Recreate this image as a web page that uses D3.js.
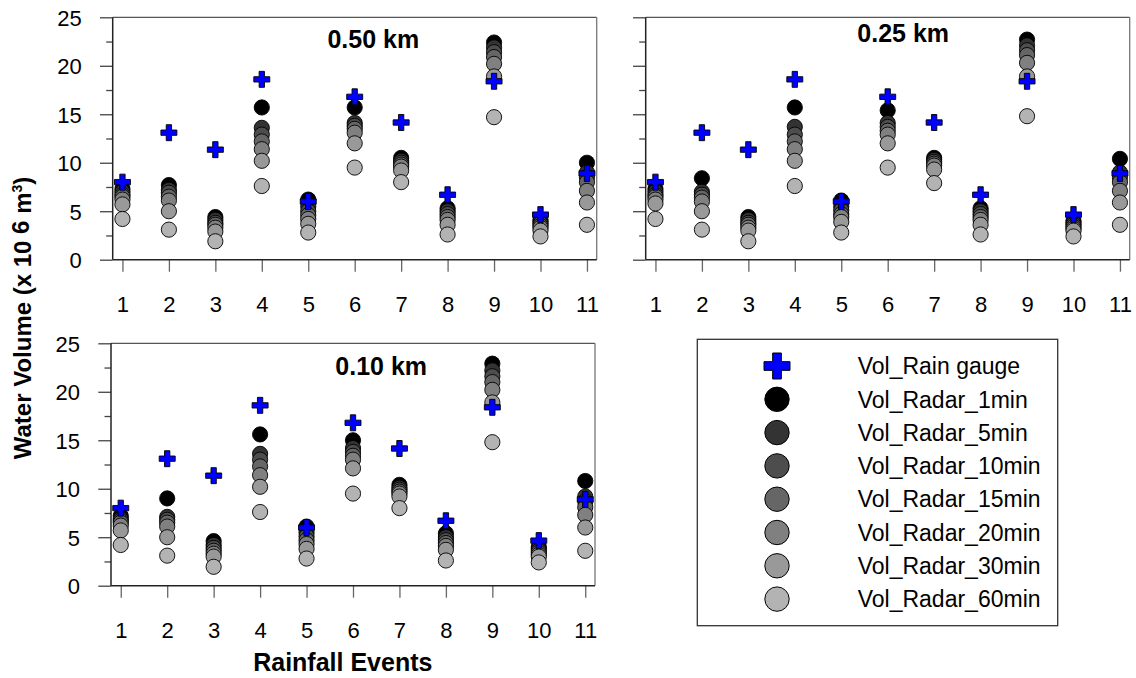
<!DOCTYPE html>
<html>
<head>
<meta charset="utf-8">
<script src="https://cdn.jsdelivr.net/npm/d3@7"></script>
<style>
  html, body { margin: 0; padding: 0; background: #fff; }
  svg { display: block; }
  text { font-family: "Liberation Sans", Arial, Helvetica, sans-serif; fill: #000; }
</style>
</head>
<body>
<svg id="chart" width="1136" height="678"></svg>
<script>
// Rainfall events on the x axis
const events = [1, 2, 3, 4, 5, 6, 7, 8, 9, 10, 11];
const yTicks = [0, 5, 10, 15, 20, 25];
const yMinorTicks = [2.5, 7.5, 12.5, 17.5, 22.5];

// Radar accumulation intervals and their grey levels
const durations = ["1min", "5min", "10min", "15min", "20min", "30min", "60min"];
const greys = ["#000000", "#333333", "#4d4d4d", "#666666", "#808080", "#999999", "#b3b3b3"];

// Rain gauge volume per event (x 10^6 m3)
const rainGauge = [8.0, 13.1, 11.35, 18.6, 6.0, 16.8, 14.15, 6.7, 18.4, 4.65, 8.9];

// Radar volumes, one row per accumulation interval (1, 5, 10, 15, 20, 30, 60 min)
const radar050 = [
  [7.3, 7.7, 4.4, 15.7, 6.2, 15.7, 10.5, 5.3, 22.4, 4.1, 10.0],
  [7.0, 7.2, 4.1, 13.6, 5.5, 14.1, 10.2, 5.0, 21.9, 3.9, 9.0],
  [6.7, 6.9, 3.8, 12.9, 5.0, 13.8, 10.0, 4.7, 21.4, 3.7, 8.5],
  [6.5, 6.5, 3.6, 12.2, 4.6, 13.5, 9.8, 4.4, 20.9, 3.5, 8.0],
  [6.2, 6.1, 3.3, 11.4, 4.2, 13.1, 9.6, 4.1, 20.2, 3.3, 7.1],
  [5.7, 5.0, 2.9, 10.2, 3.7, 12.0, 9.2, 3.6, 18.9, 3.0, 5.9],
  [4.2, 3.1, 1.9, 7.6, 2.8, 9.5, 8.0, 2.6, 14.7, 2.4, 3.6]
];
const radar025 = [
  [7.3, 8.4, 4.4, 15.7, 6.1, 15.4, 10.5, 5.3, 22.7, 4.0, 10.4],
  [7.0, 7.0, 4.1, 13.7, 5.5, 14.1, 10.3, 5.0, 22.1, 3.8, 9.0],
  [6.7, 6.7, 3.8, 12.9, 5.1, 13.7, 10.1, 4.7, 21.6, 3.6, 8.5],
  [6.5, 6.4, 3.6, 12.2, 4.7, 13.3, 9.9, 4.4, 21.1, 3.4, 8.0],
  [6.2, 6.0, 3.3, 11.4, 4.4, 12.9, 9.7, 4.1, 20.3, 3.2, 7.1],
  [5.8, 5.0, 3.0, 10.2, 3.9, 12.0, 9.3, 3.6, 18.9, 3.0, 5.9],
  [4.2, 3.1, 1.9, 7.6, 2.8, 9.5, 7.9, 2.6, 14.8, 2.4, 3.6]
];
const radar010 = [
  [7.2, 9.0, 4.6, 15.6, 6.1, 15.0, 10.4, 5.4, 22.9, 4.0, 10.8],
  [6.9, 7.1, 4.2, 13.6, 5.5, 14.2, 10.1, 5.0, 22.2, 3.8, 9.2],
  [6.7, 6.8, 3.9, 13.0, 5.1, 13.8, 9.9, 4.7, 21.6, 3.6, 8.7],
  [6.5, 6.5, 3.6, 12.3, 4.7, 13.4, 9.7, 4.4, 21.0, 3.4, 8.1],
  [6.2, 6.1, 3.3, 11.4, 4.3, 13.0, 9.5, 4.1, 20.2, 3.2, 7.3],
  [5.7, 5.0, 3.0, 10.2, 3.8, 12.1, 9.2, 3.7, 18.9, 3.0, 6.0],
  [4.2, 3.1, 1.95, 7.6, 2.8, 9.5, 8.0, 2.6, 14.8, 2.4, 3.6]
];

const legendLabels = ["Vol_Rain gauge"].concat(durations.map(d => "Vol_Radar_" + d));

const svg = d3.select("#chart");
const FONT = 22;
const plotW = 484, plotH = 242.4;

const panels = [
  { title: "0.50 km", values: radar050, left: 112.7, top: 17.3, yLabels: true,  tx: 373.3, ty: 48.3 },
  { title: "0.25 km", values: radar025, left: 645.7, top: 17.3, yLabels: false, tx: 903.2, ty: 41.7 },
  { title: "0.10 km", values: radar010, left: 111.0, top: 343.3, yLabels: true, tx: 381.2, ty: 375.0 }
];

const crossPath = d3.symbol().type(d3.symbolCross).size(142)();
const crossPathLegend = d3.symbol().type(d3.symbolCross).size(375)();

panels.forEach(p => {
  const g = svg.append("g").attr("transform", `translate(${p.left},${p.top})`);
  const x = d3.scaleLinear().domain([0.79, 11.21]).range([0, plotW]);
  const y = d3.scaleLinear().domain([0, 25]).range([plotH, 0]);

  // y ticks (major + minor)
  const ya = g.append("g").call(
    d3.axisLeft(y).tickValues(yTicks).tickSize(12.7).tickFormat(p.yLabels ? d3.format("d") : () => "")
  );
  ya.select(".domain").remove();
  ya.selectAll("line").attr("stroke", "#444").attr("stroke-width", 1.3);
  ya.selectAll("text")
    .attr("x", -31).attr("dy", "0.36em")
    .style("font-size", FONT + "px").style("font-family", "Liberation Sans, Arial, sans-serif");

  const ym = g.append("g").call(
    d3.axisLeft(y).tickValues(yMinorTicks).tickSize(6.5).tickFormat(() => "")
  );
  ym.select(".domain").remove();
  ym.selectAll("line").attr("stroke", "#444").attr("stroke-width", 1.3);

  // x ticks
  const xa = g.append("g").attr("transform", `translate(0,${plotH})`).call(
    d3.axisBottom(x).tickValues(events).tickSize(12).tickFormat(d3.format("d"))
  );
  xa.select(".domain").remove();
  xa.selectAll("line").attr("stroke", "#666").attr("stroke-width", 1.3);
  xa.selectAll("text")
    .attr("y", 52).attr("dy", 0)
    .style("font-size", FONT + "px").style("font-family", "Liberation Sans, Arial, sans-serif");

  // frame: top/right in grey, left/bottom in black
  g.append("line").attr("x1", 0).attr("x2", plotW).attr("y1", 0).attr("y2", 0)
    .attr("stroke", "#555").attr("stroke-width", 1.3);
  g.append("line").attr("x1", plotW).attr("x2", plotW).attr("y1", 0).attr("y2", plotH)
    .attr("stroke", "#777").attr("stroke-width", 1.3);
  g.append("line").attr("x1", 0).attr("x2", 0).attr("y1", 0).attr("y2", plotH)
    .attr("stroke", "#222").attr("stroke-width", 1.5);
  g.append("line").attr("x1", 0).attr("x2", plotW).attr("y1", plotH).attr("y2", plotH)
    .attr("stroke", "#222").attr("stroke-width", 1.5);

  // radar circles: 1 min first so longer intervals sit on top
  p.values.forEach((row, k) => {
    g.append("g").selectAll("circle").data(row).join("circle")
      .attr("cx", (d, i) => x(events[i]))
      .attr("cy", d => y(d))
      .attr("r", 7.6)
      .attr("fill", greys[k])
      .attr("stroke", "#000")
      .attr("stroke-width", 0.9);
  });

  // rain gauge crosses on top
  g.append("g").selectAll("path").data(rainGauge).join("path")
    .attr("d", crossPath)
    .attr("transform", (d, i) => `translate(${x(events[i])},${y(d)})`)
    .attr("fill", "#0000ff")
    .attr("stroke", "#000")
    .attr("stroke-width", 0.9);

  // panel title
  svg.append("text")
    .attr("x", p.tx).attr("y", p.ty)
    .attr("text-anchor", "middle")
    .style("font-size", "25px").style("font-weight", "bold")
    .text(p.title);
});

// axis titles
svg.append("text")
  .attr("x", 342.8).attr("y", 671)
  .attr("text-anchor", "middle")
  .style("font-size", "25px").style("font-weight", "bold")
  .text("Rainfall Events");

const yt = svg.append("text")
  .attr("transform", "translate(31,318) rotate(-90)")
  .attr("text-anchor", "middle")
  .style("font-size", "24px").style("font-weight", "bold");
yt.append("tspan").text("Water Volume (x 10 ");
yt.append("tspan").attr("dy", -2).text("6");
yt.append("tspan").attr("dy", 2).text(" m");
yt.append("tspan").attr("dy", -9).style("font-size", "14px").text("3");
yt.append("tspan").attr("dy", 9).text(")");

// legend
const lg = svg.append("g");
lg.append("rect")
  .attr("x", 697.3).attr("y", 339.3)
  .attr("width", 360.4).attr("height", 286.4)
  .attr("fill", "#fff").attr("stroke", "#333").attr("stroke-width", 1.3);

const rowY = d3.scaleLinear().domain([0, 7]).range([366, 599.1]);
const legendItems = lg.selectAll("g.item").data(legendLabels).join("g")
  .attr("class", "item")
  .attr("transform", (d, i) => `translate(0,${rowY(i)})`);

legendItems.each(function(d, i) {
  const it = d3.select(this);
  if (i === 0) {
    it.append("path").attr("d", crossPathLegend)
      .attr("transform", "translate(777,0)")
      .attr("fill", "#0000ff").attr("stroke", "#000").attr("stroke-width", 1);
  } else {
    it.append("circle").attr("cx", 777).attr("cy", 0).attr("r", 12.2)
      .attr("fill", greys[i - 1]).attr("stroke", "#000").attr("stroke-width", 1);
  }
  it.append("text")
    .attr("x", 857.7).attr("y", 0).attr("dy", "0.36em")
    .style("font-size", "23px")
    .text(d);
});
</script>
</body>
</html>
